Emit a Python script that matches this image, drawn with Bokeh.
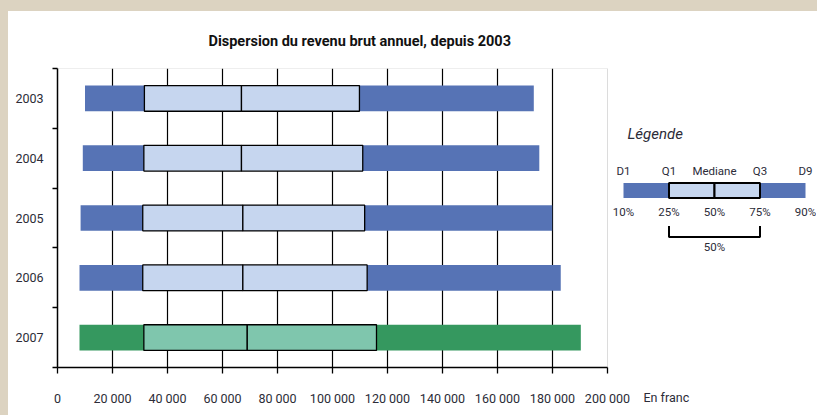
from bokeh.plotting import figure
from bokeh.models import Range1d, FixedTicker, Title, BoxAnnotation
from bokeh.embed import file_html
from bokeh.resources import INLINE
from bokeh.core.properties import value

# ---- data ----
years = [2003, 2004, 2005, 2006, 2007]
d1 = [10000, 9200, 8400, 8000, 8000]
q1 = [31600, 31400, 31000, 31000, 31400]
med = [66900, 66900, 67400, 67400, 69000]
q3 = [109800, 111000, 111700, 112600, 116000]
d9 = [173200, 175200, 179900, 183000, 190300]
x_ticks = [0, 20000, 40000, 60000, 80000, 100000, 120000, 140000, 160000, 180000, 200000]
x_tick_labels = ["0", "20 000", "40 000", "60 000", "80 000", "100 000", "120 000",
                 "140 000", "160 000", "180 000", "200 000"]
unit_label = "En franc"
title_text = "Dispersion du revenu brut annuel, depuis 2003"

legend_title = "Légende"
legend_names = ["D1", "Q1", "Mediane", "Q3", "D9"]
legend_pcts = ["10%", "25%", "50%", "75%", "90%"]
legend_pos = [0, 1, 2, 3, 4]

dark_cols = ["#5673b5", "#5673b5", "#5673b5", "#5673b5", "#35985f"]
light_cols = ["#c6d6ef", "#c6d6ef", "#c6d6ef", "#c6d6ef", "#7fc6ad"]

FONT = "Roboto"
TXT = "#2c2c38"

# ---- layout geometry (pixels) ----
W, H = 808, 403
BL, BT, BB = 49, 56, 47
FW = W - BL            # frame width (frame runs to the right edge)
FH = H - BT - BB       # 300
DATA_W = 550           # pixels used by the 0..200000 axis
x_end = x_ticks[-1] * FW / DATA_W

p = figure(width=W, height=H, output_backend="svg", toolbar_location=None,
           x_range=Range1d(0, x_end), y_range=Range1d(2007.5, 2002.5),
           min_border_left=BL, min_border_right=0, min_border_top=BT, min_border_bottom=BB,
           margin=(11, 0, 0, 8))
p.background_fill_color = "white"
p.border_fill_color = "white"
p.outline_line_color = None

p.title.visible = False
t = Title(text=title_text, align="left", offset=151, standoff=38,
          text_font=FONT, text_font_size="14.5px", text_font_style="bold", text_color="#111111")
p.add_layout(t, "above")

# plot-area border (top and right, gray)
p.add_layout(BoxAnnotation(left=x_ticks[0], right=x_ticks[-1], top=2002.5, bottom=2007.5,
                           fill_alpha=0, line_color="#8a8a8a", line_width=1, level="underlay"))

h = 0.43
p.hbar(y=years, left=d1, right=d9, height=h, fill_color=dark_cols, line_color=None)
p.hbar(y=years, left=q1, right=med, height=h, fill_color=light_cols, line_color="black", line_width=1.3)
p.hbar(y=years, left=med, right=q3, height=h, fill_color=light_cols, line_color="black", line_width=1.3)

p.xgrid.ticker = FixedTicker(ticks=x_ticks[1:-1])
p.xgrid.grid_line_color = "black"
p.xgrid.grid_line_width = 1.2
p.xgrid.bounds = (x_ticks[0], x_ticks[-1])
p.ygrid.visible = False

xa = p.xaxis[0]
xa.ticker = FixedTicker(ticks=x_ticks)
xa.bounds = (x_ticks[0], x_ticks[-1])
xa.major_label_overrides = {k: v for k, v in zip(x_ticks, x_tick_labels)}
xa.axis_line_color = "black"
xa.axis_line_width = 1.5
xa.major_tick_out = 6
xa.major_tick_in = 0
xa.major_tick_line_color = "black"
xa.major_tick_line_width = 1.3
xa.minor_tick_line_color = None
xa.major_label_standoff = 17
xa.major_label_text_font = FONT
xa.major_label_text_font_size = "12.5px"
xa.major_label_text_color = TXT

ya = p.yaxis[0]
ya.ticker = FixedTicker(ticks=years, minor_ticks=[2002.5, 2003.5, 2004.5, 2005.5, 2006.5, 2007.5])
ya.major_label_overrides = {y: str(y) for y in years}
ya.axis_line_color = "black"
ya.axis_line_width = 1.5
ya.major_tick_out = 0
ya.major_tick_in = 0
ya.minor_tick_out = 5
ya.minor_tick_in = 0
ya.minor_tick_line_color = "black"
ya.minor_tick_line_width = 1.3
ya.major_label_standoff = 9
ya.major_label_text_font = FONT
ya.major_label_text_font_size = "12.5px"
ya.major_label_text_color = TXT

# unit label, placed in the panel below the x axis, on the tick-label line
unit_t = Title(text=unit_label, align="left", offset=643 - 8 - BL, standoff=-38,
               vertical_align="top", text_font=FONT, text_font_size="12.5px",
               text_font_style="normal", text_color=TXT)
p.add_layout(unit_t, "below")

# ---- legend, drawn in its own ranges (pixel-like vertical scale) ----
LEG_X0 = 623 - 8       # canvas x of the 10% mark
LEG_STEP = 45.5
la = (BL - LEG_X0) / LEG_STEP
p.extra_x_ranges = {"leg": Range1d(la, la + FW / LEG_STEP)}
p.extra_y_ranges = {"leg": Range1d(BT + FH, BT)}   # canvas pixels from top
R = dict(x_range_name="leg", y_range_name="leg")

bar_y = 178.5
p.hbar(y=[bar_y], left=[legend_pos[0]], right=[legend_pos[-1]], height=15,
       fill_color=dark_cols[0], line_color=None, **R)
p.hbar(y=[bar_y, bar_y], left=[legend_pos[1], legend_pos[2]], right=[legend_pos[2], legend_pos[3]],
       height=15, fill_color=light_cols[0], line_color="black", line_width=2, **R)
p.text(x=legend_pos, y=[159] * 5, text=legend_names, text_font=value(FONT),
       text_font_size="11.5px", text_color=TXT, text_align="center", text_baseline="middle", **R)
p.text(x=legend_pos, y=[200] * 5, text=legend_pcts, text_font=value(FONT),
       text_font_size="11.5px", text_color=TXT, text_align="center", text_baseline="middle", **R)
p.line(x=[legend_pos[1], legend_pos[1], legend_pos[3], legend_pos[3]], y=[214, 225, 225, 214],
       line_color="black", line_width=2, **R)
p.text(x=[legend_pos[2]], y=[235], text=[legend_pcts[2]], text_font=value(FONT),
       text_font_size="11.5px", text_color=TXT, text_align="center", text_baseline="middle", **R)
p.text(x=[legend_pos[0] + 4 / LEG_STEP], y=[122], text=[legend_title], text_font=value(FONT),
       text_font_size="15px", text_font_style="italic", text_color=TXT,
       text_align="left", text_baseline="middle", **R)

html = file_html(p, INLINE, title="Dispersion du revenu brut annuel")
style = ("<style>html{background:linear-gradient(#dcd3c1,#dcd3c1) left top/100% 11px no-repeat,"
         "linear-gradient(#dcd3c1,#dcd3c1) left top/8px 100% no-repeat,#ffffff !important;}</style>")
html = html.replace("</head>", style + "</head>", 1)
open("out.html", "w").write(html)
